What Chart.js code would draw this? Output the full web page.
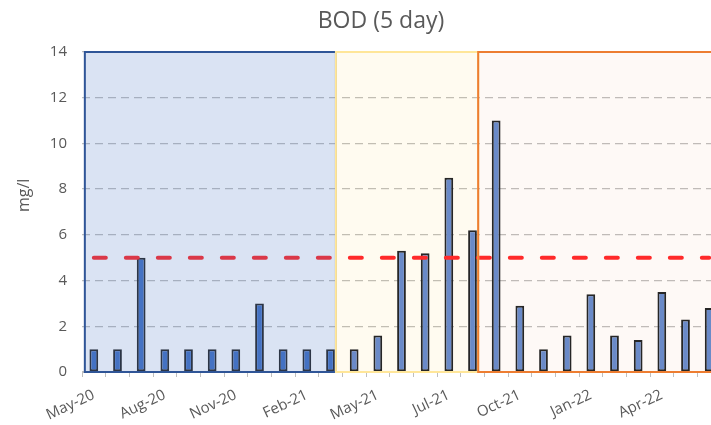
<!DOCTYPE html>
<html>
<head>
<meta charset="utf-8">
<script src="https://cdn.jsdelivr.net/npm/chart.js@4.4.1/dist/chart.umd.min.js"></script>
<style>
  html, body { margin: 0; padding: 0; background: #fff; overflow: hidden; }
  #wrap { width: 711px; height: 425px; overflow: hidden; position: relative; }
  #bodChart { display: block; }
</style>
</head>
<body>
<div id="wrap"><canvas id="bodChart" width="762" height="425"></canvas></div>
<script>
// sample dates (only every third one is labelled on the axis)
const sampleLabels = [
  "May-20", "", "", "Aug-20", "", "", "Nov-20", "", "", "Feb-21", "", "",
  "May-21", "", "", "Jul-21", "", "", "Oct-21", "", "", "Jan-22", "", "",
  "Apr-22", "", ""
];
const bodValues = [
  1, 1, 5, 1, 1, 1, 1, 3, 1, 1, 1, 1,
  1.6, 5.3, 5.2, 8.5, 6.2, 11, 2.9, 1, 1.6, 3.4, 1.6, 1.4, 3.5, 2.3, 2.8
];
const limitLine = [
  5, 5, 5, 5, 5, 5, 5, 5, 5, 5, 5, 5, 5, 5,
  5, 5, 5, 5, 5, 5, 5, 5, 5, 5, 5, 5, 5
];
const yTicks = [0, 2, 4, 6, 8, 10, 12, 14];

// shaded periods, in category-index units
const periodStart = [-0.38, 10.23, 16.24];
const periodEnd = [10.23, 16.24, 27.5];
const periodFill = ["rgba(68,114,196,0.2)", "rgba(255,192,0,0.06)", "rgba(237,125,49,0.045)"];
const periodLine = ["#2F5597", "#FFE699", "#ED7D31"];
const periodOnTop = [true, false, false];

const textColor = "#595959";
const fontFamily = "'Open Sans', 'DejaVu Sans', sans-serif";

const barColors = bodValues.map((v, i) => (i <= 10 ? "#4472C4" : "#6A8AC8"));

function periodBox(chart, i) {
  const x = chart.scales.x;
  const y = chart.scales.y;
  const top = y.getPixelForValue(yTicks[yTicks.length - 1]);
  const bottom = y.getPixelForValue(0);
  const x0 = x.getPixelForValue(periodStart[i]);
  const x1 = x.getPixelForValue(periodEnd[i]);
  return { x0, x1, top, bottom };
}

const periodsPlugin = {
  id: "periods",
  beforeDatasetsDraw(chart) {
    const ctx = chart.ctx;
    ctx.save();
    periodStart.forEach((s, i) => {
      if (periodOnTop[i]) return;
      const b = periodBox(chart, i);
      ctx.fillStyle = periodFill[i];
      ctx.fillRect(b.x0, b.top, b.x1 - b.x0, b.bottom - b.top);
    });
    ctx.restore();
  },
  afterDatasetsDraw(chart) {
    const ctx = chart.ctx;
    ctx.save();
    periodStart.forEach((s, i) => {
      if (!periodOnTop[i]) return;
      const b = periodBox(chart, i);
      ctx.fillStyle = periodFill[i];
      ctx.fillRect(b.x0, b.top, b.x1 - b.x0, b.bottom - b.top);
    });
    periodStart.forEach((s, i) => {
      const b = periodBox(chart, i);
      ctx.strokeStyle = periodLine[i];
      ctx.lineWidth = 2;
      ctx.strokeRect(b.x0, b.top, b.x1 - b.x0, b.bottom - b.top);
    });
    ctx.restore();
  },
};

new Chart(document.getElementById("bodChart"), {
  type: "bar",
  data: {
    labels: sampleLabels,
    datasets: [
      {
        type: "line",
        label: "Limit",
        data: limitLine,
        borderColor: "#FF2A2A",
        borderWidth: 4,
        borderDash: [12, 20],
        borderCapStyle: "round",
        pointRadius: 0,
        fill: false,
        order: 1,
      },
      {
        label: "BOD",
        data: bodValues,
        backgroundColor: barColors,
        borderColor: "#262626",
        borderWidth: 2,
        borderSkipped: false,
        categoryPercentage: 1,
        barPercentage: 0.37,
        order: 2,
      },
    ],
  },
  options: {
    responsive: false,
    animation: false,
    devicePixelRatio: 1,
    layout: { padding: 0 },
    plugins: {
      legend: { display: false },
      tooltip: { enabled: false },
      title: {
        display: true,
        text: "BOD (5 day)",
        color: textColor,
        font: { family: fontFamily, size: 23, weight: "normal" },
        padding: { top: 8, bottom: 16.4 },
      },
    },
    scales: {
      x: {
        grid: {
          display: true,
          drawOnChartArea: false,
          drawTicks: true,
          tickLength: 5,
          color: "#BFBFBF",
          offset: true,
        },
        border: { display: true, color: "#BFBFBF" },
        ticks: {
          autoSkip: false,
          minRotation: 25,
          maxRotation: 25,
          color: textColor,
          padding: 9,
          font: { family: fontFamily, size: 15 },
        },
        afterFit(scale) { scale.height = 53; },
      },
      y: {
        min: 0,
        max: 14,
        afterBuildTicks(scale) { scale.ticks = yTicks.map((v) => ({ value: v })); },
        grid: { color: "#BFBFBF", lineWidth: 1.3, drawTicks: false },
        border: { display: false, dash: [8, 5] },
        ticks: {
          color: textColor,
          padding: 15,
          font: { family: fontFamily, size: 15 },
        },
        title: {
          display: true,
          text: "        mg/l",
          color: textColor,
          font: { family: fontFamily, size: 16 },
          padding: { top: 15, bottom: 0 },
        },
        afterFit(scale) { scale.width = 82; },
      },
      // empty right-hand box so the title sits where the reference has it
      yRight: {
        position: "right",
        display: true,
        grid: { display: false },
        border: { display: false },
        ticks: { display: false },
        afterFit(scale) { scale.width = 41; },
      },
    },
  },
  plugins: [periodsPlugin],
});
</script>
</body>
</html>
